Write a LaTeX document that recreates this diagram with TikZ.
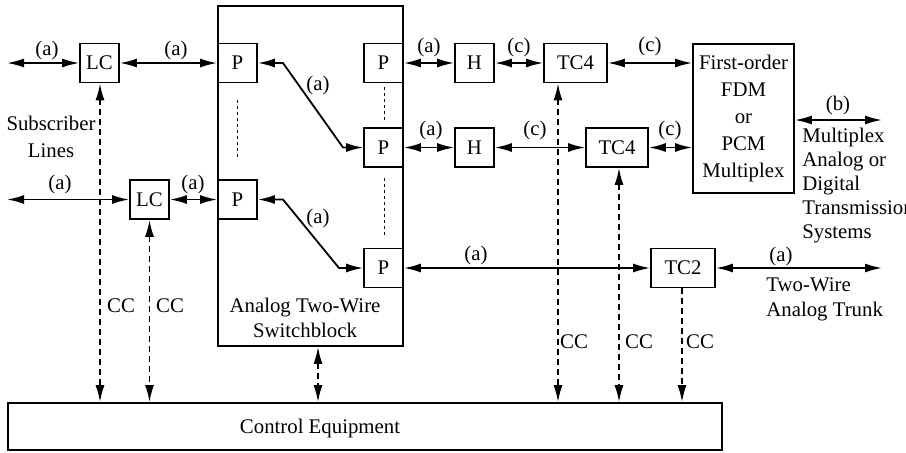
\documentclass[tikz,border=0pt]{standalone}
\usepackage{fontspec}
\setmainfont{Liberation Serif}
\usetikzlibrary{arrows.meta}
\begin{document}
\begin{tikzpicture}[x=0.5pt,y=-0.5pt,
  font=\fontsize{10.4pt}{12.5pt}\selectfont,
  box/.style={draw,line width=0.85pt,inner sep=0pt,minimum width=19.5pt,minimum height=19.5pt},
  lab/.style={inner sep=0pt},
  tip/.tip={Latex[length=8.5pt,width=4.5pt]},
  conn/.style={line width=0.9pt,tip-tip},
  ctl/.style={line width=0.9pt,dash pattern=on 3pt off 2pt,tip-tip},
  ctldown/.style={line width=0.9pt,dash pattern=on 3pt off 2pt,-tip},
  dots/.style={line width=0.5pt,dash pattern=on 1.5pt off 1.5pt}]
\useasboundingbox (0,0) rectangle (906,452);
% switchblock and control
\node[draw,line width=0.85pt,inner sep=0pt,minimum width=92.5pt,minimum height=170pt] (SB) at (310.5,176) {};
\node[lab,align=center,font=\fontsize{10.4pt}{12.5pt}\selectfont] (SBT) at (305,317.5) {Analog Two-Wire\\Switchblock};
\node[draw,line width=0.85pt,inner sep=0pt,minimum width=357pt,minimum height=23.5pt] (CTL) at (365,426.5) {};
\node[lab] (CTLT) at (320,428) {Control Equipment};
% boxes
\node[box,fill=white] (LC1) at (99.5,63) {LC};
\node[box,fill=white] (LC2) at (149.5,199.5) {LC};
\node[box,fill=white] (P1) at (237.5,63) {P};
\node[box,fill=white] (P3) at (237.5,199.5) {P};
\node[box,fill=white] (P2) at (383.5,63) {P};
\node[box,fill=white] (P4) at (383.5,147.5) {P};
\node[box,fill=white] (P5) at (383.5,268) {P};
\node[box] (H1) at (474.5,63) {H};
\node[box] (H2) at (474.5,147.5) {H};
\node[box,minimum width=31.5pt] (TC4a) at (575.5,63) {TC4};
\node[box,minimum width=31pt] (TC4b) at (617,147.5) {TC4};
\node[box,minimum width=32pt] (TC2) at (683,268) {TC2};
\node[box,minimum width=50.5pt,minimum height=74.5pt,align=center,font=\fontsize{10.4pt}{13.4pt}\selectfont] (FDM) at (743.5,118.5) {First-order\\FDM\\or\\PCM\\Multiplex};
% free ends and bends
\coordinate (L1) at (7,63);
\coordinate (L2) at (7,199.5);
\coordinate (R1) at (882,120);
\coordinate (R2) at (882,268);
\coordinate (d1a) at (283,63);
\coordinate (d1b) at (343,147.5);
\coordinate (d2a) at (283,199.5);
\coordinate (d2b) at (339,268);
% dotted continuation marks
\coordinate (v1a) at (237.5,100); \coordinate (v1b) at (237.5,158);
\coordinate (v2a) at (384,87); \coordinate (v2b) at (384,120);
\coordinate (v3a) at (384,178); \coordinate (v3b) at (384,235);
\draw[dots] (v1a) -- (v1b);
\draw[dots] (v2a) -- (v2b);
\draw[dots] (v3a) -- (v3b);
% solid connectors
\draw[conn] (L1) -- (LC1);
\draw[conn] (LC1) -- (P1);
\draw[conn] (P1.east) -- (d1a) -- (d1b) -- (P4.west);
\draw[conn] (L2) -- (LC2);
\draw[conn] (LC2) -- (P3);
\draw[conn] (P3.east) -- (d2a) -- (d2b) -- (P5.west);
\draw[conn] (P2) -- (H1);
\draw[conn] (H1) -- (TC4a);
\draw[conn] (TC4a.east) -- (TC4a.east -| FDM.west);
\draw[conn] (P4) -- (H2);
\draw[conn] (H2) -- (TC4b);
\draw[conn] (TC4b.east) -- (TC4b.east -| FDM.west);
\draw[conn] (R1 -| FDM.east) -- (R1);
\draw[conn] (P5) -- (TC2);
\draw[conn] (TC2) -- (R2);
% control connectors
\draw[ctl] ([xshift=0.25pt]LC1.south) -- ([xshift=0.25pt]LC1.south |- CTL.north);
\draw[ctl] (LC2.south) -- (LC2.south |- CTL.north);
\draw[ctl] ([xshift=3.75pt]SB.south) -- ([xshift=3.75pt]SB.south |- CTL.north);
\draw[ctl] ([xshift=-8.75pt]TC4a.south) -- ([xshift=-8.75pt]TC4a.south |- CTL.north);
\draw[ctl] ([xshift=1pt]TC4b.south) -- ([xshift=1pt]TC4b.south |- CTL.north);
\draw[ctldown] ([xshift=-0.5pt]TC2.south) -- ([xshift=-0.5pt]TC2.south |- CTL.north);
% connector labels
\node[lab] (la1) at (47,50) {(a)};
\node[lab] (la2) at (176,50) {(a)};
\node[lab] (la3) at (429,47) {(a)};
\node[lab] (lc1) at (519,47) {(c)};
\node[lab] (lc2) at (650,46) {(c)};
\node[lab] (la4) at (318,85) {(a)};
\node[lab] (la5) at (318,218) {(a)};
\node[lab] (la6) at (60,184) {(a)};
\node[lab] (la7) at (193,184) {(a)};
\node[lab] (la8) at (431,130) {(a)};
\node[lab] (lc3) at (535,130) {(c)};
\node[lab] (lc4) at (670,130) {(c)};
\node[lab] (lb1) at (838,105) {(b)};
\node[lab] (la9) at (476,255) {(a)};
\node[lab] (la10) at (781,256) {(a)};
% CC labels
\node[lab] (cc1) at (121,306) {CC};
\node[lab] (cc2) at (170,306) {CC};
\node[lab] (cc3) at (574,342) {CC};
\node[lab] (cc4) at (639,342) {CC};
\node[lab] (cc5) at (700,342) {CC};
% side texts
\node[lab,align=center,font=\fontsize{10.4pt}{13.5pt}\selectfont] (subs) at (51,137) {Subscriber\\Lines};
\node[lab,align=left,anchor=west,font=\fontsize{10.4pt}{12pt}\selectfont] (mux) at (802,186) {Multiplex\\Analog or\\Digital\\Transmission\\Systems};
\node[lab,align=left,anchor=west,font=\fontsize{10.4pt}{12.5pt}\selectfont] (trunk) at (766,299.5) {Two-Wire\\Analog Trunk};
\end{tikzpicture}
\end{document}
